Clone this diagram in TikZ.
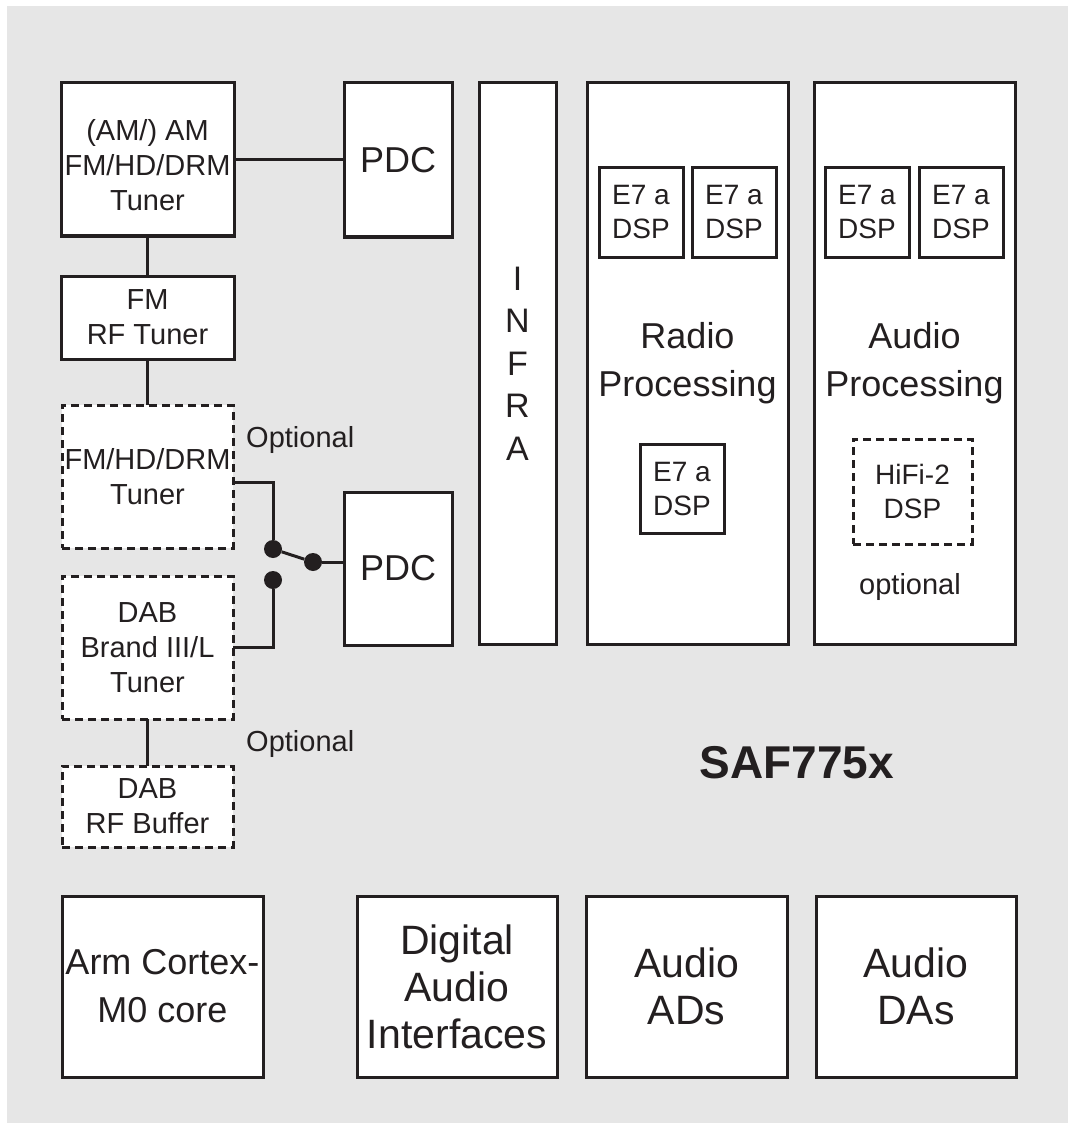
\documentclass[tikz,border=0pt]{standalone}
\usepackage{fontspec}
\setmainfont{Liberation Sans}
\usetikzlibrary{arrows,calc,positioning,shapes}
\definecolor{bggray}{HTML}{E6E6E6}
\definecolor{ink}{HTML}{231F20}
\newcommand{\smallsize}{\fontsize{29}{35}\selectfont}
\newcommand{\largesize}{\fontsize{36}{48}\selectfont}
\newcommand{\hugesize}{\fontsize{41}{47}\selectfont}
\tikzstyle{element}=[
  draw=ink,
  fill=white,
  text=ink,
  font=\smallsize,
  inner sep=0pt,
  outer sep=0pt,
  line width=3pt,
  rectangle,
  align=center,
]
\tikzstyle{optional}=[
  element,
  dash pattern=on 8pt off 5pt,
]
\tikzstyle{dsp}=[
  element,
  minimum width=84pt,
  minimum height=89pt,
  font={\fontsize{28}{34}\selectfont},
]
\tikzstyle{wire}=[
  draw=ink,
  line width=3pt,
]
\tikzstyle{dot}=[
  circle,
  fill=ink,
  inner sep=0pt,
  minimum size=18pt,
]
\tikzstyle{note}=[
  text=ink,
  font=\smallsize,
  inner sep=0pt,
]
\tikzset{
  x=1pt,
  y=-1pt,
}

\begin{document}
\begin{tikzpicture}
      \useasboundingbox (0,0) rectangle (1068,1123);
      \fill [bggray] (7,6) rectangle (1068,1123);
      % tuner column
      \node (tuner) [element, minimum width=173pt, minimum height=153pt] at (147.5,159.5) {\raisebox{-9pt}[\height][\depth]{\begin{tabular}{@{}c@{}}(AM/) AM\\FM/HD/DRM\\Tuner\end{tabular}}};
      \node (fmrf) [element, minimum width=173pt, minimum height=83pt] at (147.5,317.5) {FM\\RF Tuner};
      \node (fmhd) [optional, minimum width=171pt, minimum height=143pt] at (147.5,476.5) {FM/HD/DRM\\Tuner};
      \node (dab) [optional, minimum width=171pt, minimum height=143pt] at (147.5,647.5) {DAB\\Brand III/L\\Tuner};
      \node (dabrf) [optional, minimum width=171pt, minimum height=81pt] at (147.5,806.5) {DAB\\RF Buffer};
      \node (opta) [note, anchor=west] at (246,440) {Optional};
      \node (optb) [note, anchor=west] at (246,744) {Optional};
      % PDCs and switch
      \node (pdca) [element, font=\largesize, minimum width=108pt, minimum height=154pt] at (398,160) {PDC};
      \node (pdcb) [element, font=\largesize, minimum width=108pt, minimum height=153pt] at (398,568.5) {PDC};
      \node (swa) [dot] at (273,549) {};
      \node (swb) [dot] at (313,562) {};
      \node (swc) [dot] at (273,580) {};
      % processing blocks
      \node (infra) [element, font={\fontsize{34}{42.5}\selectfont}, minimum width=77pt, minimum height=561pt] at (517.5,363.5) {I\\N\\F\\R\\A};
      \node (radio) [element, font=\largesize, minimum width=201pt, minimum height=561pt] at (687.5,363.5) {Radio\\Processing};
      \node (audio) [element, font=\largesize, minimum width=201pt, minimum height=561pt] at (914.5,363.5) {Audio\\Processing};
      \node (rdspa) [dsp] at (641,212.5) {E7 a\\DSP};
      \node (rdspb) [dsp] at (734,212.5) {E7 a\\DSP};
      \node (rdspc) [dsp] at (682,489) {E7 a\\DSP};
      \node (adspa) [dsp] at (867,212.5) {E7 a\\DSP};
      \node (adspb) [dsp] at (961,212.5) {E7 a\\DSP};
      \node (hifi) [optional, font={\fontsize{28}{34}\selectfont}, minimum width=119pt, minimum height=105pt] at (912.5,491.5) {HiFi-2\\DSP};
      \node (optc) [note] at (910,587) {optional};
      \node (chip) [note, font={\fontsize{46}{46}\selectfont\bfseries}] at (797,763) {SAF775x};
      % bottom row
      \node (arm) [element, font=\largesize, minimum width=201pt, minimum height=181pt] at (162.5,986.5) {Arm Cortex-\\M0 core};
      \node (dai) [element, font=\hugesize, minimum width=200pt, minimum height=181pt] at (457,986.5) {Digital\\Audio\\Interfaces};
      \node (ads) [element, font=\hugesize, minimum width=201pt, minimum height=181pt] at (686.5,986.5) {Audio\\ADs};
      \node (das) [element, font=\hugesize, minimum width=200pt, minimum height=181pt] at (916,986.5) {Audio\\DAs};
      % connections
      \draw [wire] (tuner.east) -- (tuner.east -| pdca.west);
      \draw [wire] (tuner.south) -- (fmrf.north);
      \draw [wire] (fmrf.south) -- (fmhd.north);
      \draw [wire] (dab.south) -- (dabrf.north);
      \draw [wire] ([yshift=-5.5pt]fmhd.east) -| (swa);
      \draw [wire] (swa) -- (swb);
      \draw [wire] (swb) -- (swb -| pdcb.west);
      \draw [wire] (swc) |- (dab.east);
    \end{tikzpicture}
\end{document}
